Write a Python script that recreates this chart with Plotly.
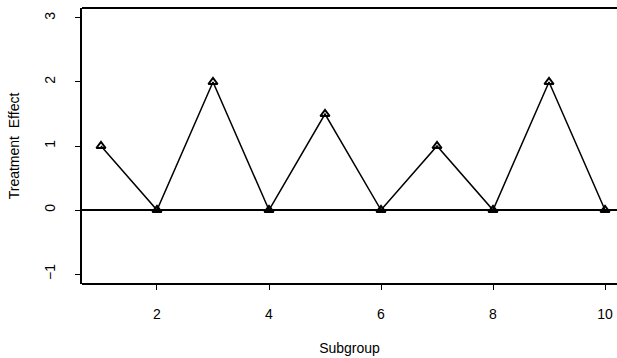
import plotly.graph_objects as go

subgroup = [1, 2, 3, 4, 5, 6, 7, 8, 9, 10]
effect = [1, 0, 2, 0, 1.5, 0, 1, 0, 2, 0]
x_ticks = [2, 4, 6, 8, 10]
y_ticks = [-1, 0, 1, 2, 3]

font = dict(family="Liberation Sans, Arial, sans-serif", size=14, color="black")

fig = go.Figure()
fig.add_trace(go.Scatter(
    x=subgroup, y=effect, mode="lines+markers",
    line=dict(color="black", width=1.5),
    marker=dict(symbol="triangle-up-open", size=8, color="black", line=dict(width=2, color="black")),
    showlegend=False, cliponaxis=False,
))
fig.add_hline(y=0, line=dict(color="black", width=2))
for yy in (0, 1):
    fig.add_shape(type="line", xref="paper", yref="paper", x0=0, x1=1, y0=yy, y1=yy,
                  line=dict(color="black", width=2))

fig.update_layout(
    width=617, height=358,
    margin=dict(l=82, r=0, t=8, b=74),
    paper_bgcolor="white", plot_bgcolor="white",
    font=font,
    xaxis=dict(
        range=[0.661, 10.214], tickvals=x_ticks, ticks="outside", ticklen=5,
        tickcolor="black", showline=False,
        showgrid=False, zeroline=False,
        tickfont=dict(size=14),
        title=dict(text="Subgroup", standoff=22, font=dict(size=14)), ticklabelstandoff=12,
    ),
    yaxis=dict(
        range=[-1.156, 3.156], tickvals=y_ticks, ticks="outside", ticklen=5,
        tickcolor="black", showline=True, linecolor="black", linewidth=2,
        mirror=False, showgrid=False, zeroline=False, tickangle=-90,
        tickfont=dict(size=14),
        title=dict(text="Treatment  Effect", standoff=20, font=dict(size=14)), ticklabelstandoff=14,
    ),
)
fig.write_html("out.html", config={"displayModeBar": False})
